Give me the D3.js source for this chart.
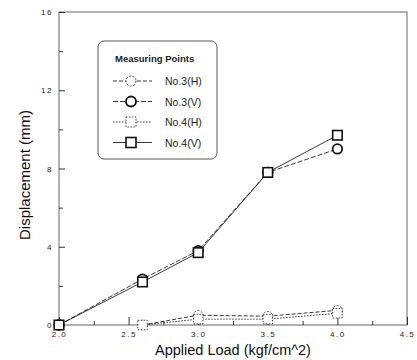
<!DOCTYPE html>
<html>
<head>
<meta charset="utf-8">
<script src="https://cdn.jsdelivr.net/npm/d3@7"></script>
<style>
  body { margin: 0; background: #fff; }
  svg { font-family: "Liberation Sans", "DejaVu Sans", sans-serif; }
  .frame { fill: none; stroke: #555; stroke-width: 0.9; }
  .axis path { display: none; }
  .axis line { stroke: #333; }
  .axis text { font-size: 8px; fill: #222; letter-spacing: 1.5px; }
</style>
</head>
<body>
<svg id="chart" width="417" height="360"></svg>
<script>
// loads (x) and displacements (y)
const loads = [2.0, 2.6, 3.0, 3.5, 4.0];
const no3H = [null, 0, 0.5, 0.45, 0.75];
const no3V = [0, 2.35, 3.8, 7.8, 9.0];
const no4H = [null, 0, 0.3, 0.3, 0.6];
const no4V = [0, 2.2, 3.7, 7.8, 9.7];

const xTicks = [2.0, 2.5, 3.0, 3.5, 4.0, 4.5];
const yTicks = [0, 4, 8, 12, 16];
const seriesNames = ["No.3(H)", "No.3(V)", "No.4(H)", "No.4(V)"];

const series = [
    { name: seriesNames[0], values: no3H, shape: "circle", lineDash: "4,2", markDash: "2,1.5", markWidth: 0.8 },
    { name: seriesNames[1], values: no3V, shape: "circle", lineDash: "5,2", markDash: null, markWidth: 1.8 },
    { name: seriesNames[2], values: no4H, shape: "square", lineDash: "1.5,1.5", markDash: "1.5,1.5", markWidth: 0.8 },
    { name: seriesNames[3], values: no4V, shape: "square", lineDash: null, markDash: null, markWidth: 1.6 }
];

const svg = d3.select("#chart");
const margin = {top: 12, right: 10, bottom: 35, left: 59};
const width = 417 - margin.left - margin.right,
      height = 360 - margin.top - margin.bottom;

const x = d3.scaleLinear().domain([2.0, 4.5]).range([margin.left, margin.left + width]);
const y = d3.scaleLinear().domain([0, 16]).range([margin.top + height, margin.top]);

// frame
svg.append("rect").attr("class", "frame")
    .attr("x", x(2.0)).attr("y", y(16))
    .attr("width", x(4.5) - x(2.0)).attr("height", y(0) - y(16));

// y axis, inward ticks
svg.append("g").attr("class", "axis")
    .attr("transform", `translate(${x(2.0)},0)`)
    .call(d3.axisRight(y).tickValues(yTicks).tickSize(6).tickFormat(d3.format("d")))
    .call(g => g.selectAll("text").attr("x", -6).attr("text-anchor", "end"));
svg.append("g").attr("class", "axis")
    .attr("transform", `translate(${x(2.0)},0)`)
    .call(d3.axisRight(y).tickValues([2, 6, 10, 14]).tickSize(4).tickFormat(""));

// x axis, inward ticks
svg.append("g").attr("class", "axis")
    .attr("transform", `translate(0,${y(0)})`)
    .call(d3.axisTop(x).tickValues(xTicks).tickSize(8).tickFormat(d3.format(".1f")))
    .call(g => g.selectAll("text").attr("y", 12).attr("dy", 0));
svg.append("g").attr("class", "axis")
    .attr("transform", `translate(0,${y(0)})`)
    .call(d3.axisTop(x).tickValues([2.25, 2.75, 3.25, 3.75, 4.25]).tickSize(4).tickFormat(""));

// lines
const line = d3.line()
    .defined(d => d.v !== null)
    .x(d => x(d.x))
    .y(d => y(d.v));

series.forEach(s => {
    const pts = loads.map((l, i) => ({x: l, v: s.values[i]}));
    svg.append("path")
        .datum(pts)
        .attr("fill", "none")
        .attr("stroke", "#222")
        .attr("stroke-width", 0.9)
        .attr("stroke-dasharray", s.lineDash)
        .attr("d", line);
});

function drawMarker(g, s, cx, cy, size) {
    if (s.shape === "circle") {
        g.append("circle").attr("cx", cx).attr("cy", cy).attr("r", size / 2);
    } else {
        g.append("rect").attr("x", cx - size / 2).attr("y", cy - size / 2)
            .attr("width", size).attr("height", size);
    }
    g.selectAll("*")
        .attr("fill", "#fff")
        .attr("stroke", "#111")
        .attr("stroke-width", s.markWidth)
        .attr("stroke-dasharray", s.markDash);
}

// markers: H first so V sits on top
series.forEach(s => {
    loads.forEach((l, i) => {
        if (s.values[i] === null) return;
        drawMarker(svg.append("g"), s, x(l), y(s.values[i]), 9.5);
    });
});

// legend
const legend = svg.append("g").attr("transform", "translate(98,41)");
legend.append("rect")
    .attr("width", 119).attr("height", 118).attr("rx", 6)
    .attr("fill", "#fff").attr("stroke", "#444").attr("stroke-width", 0.9);
legend.append("text")
    .attr("x", 17).attr("y", 21)
    .attr("font-size", 9.5).attr("font-weight", "bold").attr("fill", "#222")
    .text("Measuring Points");

series.forEach((s, i) => {
    const ly = 40 + i * 20.5;
    legend.append("line")
        .attr("x1", 15).attr("x2", 54).attr("y1", ly).attr("y2", ly)
        .attr("stroke", "#222").attr("stroke-width", 0.9)
        .attr("stroke-dasharray", s.lineDash);
    drawMarker(legend.append("g"), s, 33, ly, 10);
    legend.append("text")
        .attr("x", 67).attr("y", ly + 4)
        .attr("font-size", 10.5).attr("fill", "#222")
        .text(s.name);
});

// axis titles
svg.append("text")
    .attr("transform", `translate(30,175) rotate(-90)`)
    .attr("text-anchor", "middle")
    .attr("font-size", 15).attr("fill", "#111")
    .text("Displacement (mm)");

svg.append("text")
    .attr("x", 233).attr("y", 355)
    .attr("text-anchor", "middle")
    .attr("font-size", 14.5).attr("fill", "#111")
    .text("Applied Load (kgf/cm^2)");
</script>
</body>
</html>
